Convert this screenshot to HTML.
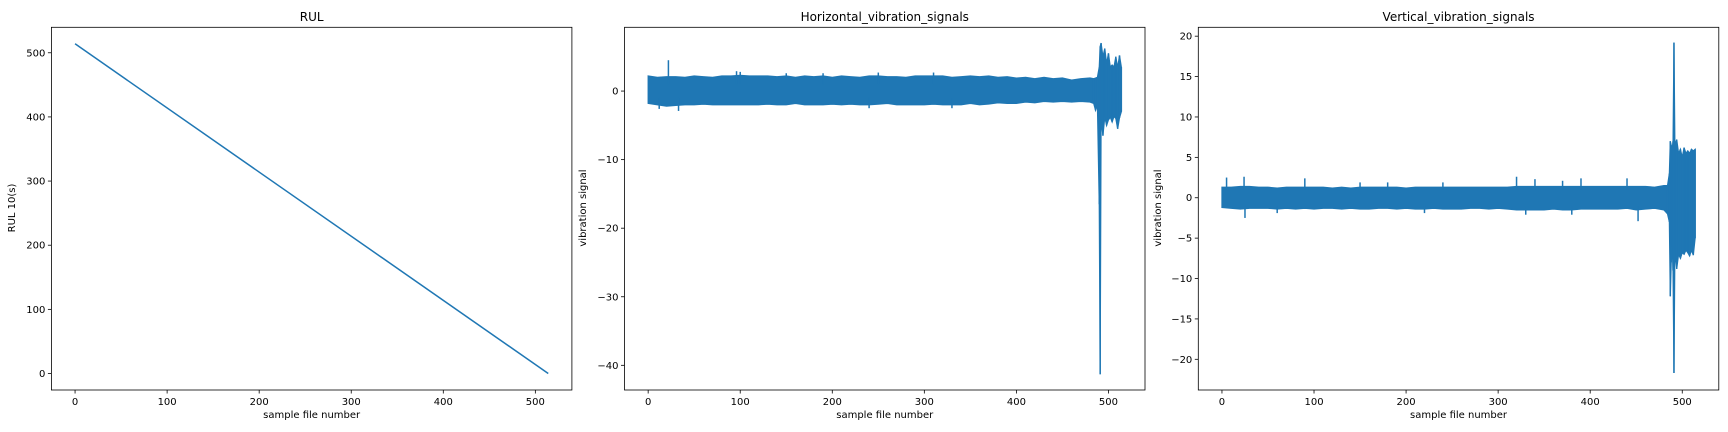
<!DOCTYPE html>
<html><head><meta charset="utf-8"><style>
html,body{margin:0;padding:0;background:#fff;}
svg{display:block;font-family:"DejaVu Sans","Liberation Sans",sans-serif;}
</style></head><body>
<svg id="fig" width="1728" height="432" xmlns="http://www.w3.org/2000/svg"></svg>
<script>
// ---- data ----
const rulFiles = [0, 514];
const rulValues = [514, 0];
const rulTicksY = [0, 100, 200, 300, 400, 500];
const xTicks = [0, 100, 200, 300, 400, 500];

const bandFiles = [0,10,20,30,40,50,60,70,80,90,100,110,120,130,140,150,160,170,180,190,200,210,220,230,240,250,260,270,280,290,300,310,320,330,340,350,360,370,380,390,400,410,420,430,440,450,460,470,480];

const horizHi = [2.2,2.0,2.1,2.1,2.0,2.2,2.1,2.0,2.2,2.2,2.3,2.2,2.2,2.2,2.1,2.2,2.0,2.2,2.1,2.2,2.0,2.2,2.1,2.0,2.2,2.2,2.1,2.1,2.0,2.2,2.2,2.2,2.2,2.0,2.1,2.2,2.1,2.2,2.0,2.1,1.9,2.0,1.8,2.0,1.8,1.9,1.6,1.8,1.9];
const horizLo = [-1.8,-2.0,-2.2,-2.1,-2.0,-2.0,-1.9,-2.0,-2.0,-2.0,-2.0,-2.0,-2.0,-1.9,-2.0,-2.0,-1.8,-2.0,-2.0,-2.0,-1.9,-2.0,-1.9,-2.0,-2.0,-1.9,-1.8,-2.0,-2.0,-2.0,-2.0,-1.9,-2.0,-2.0,-2.0,-1.8,-2.0,-1.9,-1.7,-1.8,-1.8,-1.6,-1.7,-1.5,-1.6,-1.5,-1.6,-1.5,-1.6];
const horizSpikeFiles = [22, 33, 96, 100, 150, 190, 250, 310, 12, 240, 330];
const horizSpikeValues = [4.5, -2.9, 2.9, 2.8, 2.6, 2.6, 2.7, 2.7, -2.6, -2.5, -2.5];
const horizTailFiles = [484,486,488,490,491,492,494,496,498,500,502,504,506,508,510,512,514];
const horizTailHi = [1.8,1.9,2.0,3.5,6.5,7.0,5.0,6.2,4.0,5.5,3.5,3.8,3.5,5.0,3.4,5.2,3.5];
const horizTailLo = [-1.8,-2.8,-2.0,-16.5,-41.3,-4.0,-6.5,-3.8,-5.0,-4.2,-3.8,-4.5,-3.7,-4.0,-5.5,-3.9,-3.0];
const horizTicksY = [-40, -30, -20, -10, 0];

const vertHi = [1.3,1.3,1.4,1.4,1.3,1.3,1.2,1.3,1.3,1.3,1.3,1.3,1.2,1.3,1.2,1.3,1.3,1.3,1.3,1.3,1.2,1.3,1.3,1.3,1.3,1.3,1.3,1.3,1.3,1.3,1.3,1.3,1.4,1.4,1.4,1.4,1.4,1.4,1.4,1.4,1.4,1.4,1.4,1.4,1.4,1.4,1.4,1.3,1.5];
const vertLo = [-1.2,-1.3,-1.4,-1.3,-1.3,-1.3,-1.4,-1.3,-1.4,-1.3,-1.4,-1.3,-1.3,-1.4,-1.3,-1.4,-1.4,-1.3,-1.3,-1.4,-1.3,-1.4,-1.4,-1.3,-1.4,-1.4,-1.4,-1.3,-1.3,-1.4,-1.3,-1.4,-1.5,-1.5,-1.5,-1.5,-1.4,-1.5,-1.5,-1.4,-1.4,-1.4,-1.4,-1.4,-1.3,-1.5,-1.4,-1.3,-1.5];
const vertSpikeFiles = [5, 24, 25, 90, 150, 180, 240, 320, 340, 370, 390, 440, 452, 220, 330, 380, 60];
const vertSpikeValues = [2.5, 2.6, -2.5, 2.4, 1.9, 1.9, 1.9, 2.6, 2.3, 2.1, 2.4, 2.4, -2.9, -1.9, -2.1, -2.1, -1.9];
const vertTailFiles = [484,486,487,488,489,490,491,492,494,496,498,500,502,504,506,508,510,512,514];
const vertTailHi = [1.5,3.0,7.0,6.5,6.0,7.0,19.2,6.5,7.2,5.5,6.0,5.0,6.2,5.5,5.8,5.5,6.0,5.8,6.0];
const vertTailLo = [-2.0,-3.0,-12.2,-8.0,-6.0,-9.0,-21.7,-6.5,-8.8,-7.0,-7.5,-6.8,-7.0,-6.5,-6.8,-7.2,-6.5,-7.1,-5.0];
const vertTicksY = [-20, -15, -10, -5, 0, 5, 10, 15, 20];

const NS = "http://www.w3.org/2000/svg";
const svg = document.getElementById('fig');
const BLUE = "#1f77b4";
function mk(tag, attrs, parent) {
  const e = document.createElementNS(NS, tag);
  for (const k in attrs) e.setAttribute(k, attrs[k]);
  (parent || svg).appendChild(e);
  return e;
}
function txt(s, attrs, parent) { const t = mk('text', attrs, parent); t.textContent = s; return t; }

const TOP = 27.3, BOT = 390, W = 520.5;
const XMIN = -25.7, XMAX = 539.7;

function makeAxes(name, left, ymin, ymax, yTicks, title, ylabel, ylabX) {
  const g = mk('g', {});
  
  
  const sx = v => left + (v - XMIN) / (XMAX - XMIN) * W;
  const sy = v => BOT - (v - ymin) / (ymax - ymin) * (BOT - TOP);
  const t = txt(title, {x: left + W / 2, y: 21, 'text-anchor': 'middle', 'font-size': 12, fill: '#000'}, g);
  
  
  const xa = mk('g', {}, g);
  
  
  xTicks.forEach(v => {
    const x = sx(v);
    mk('line', {x1: x, x2: x, y1: BOT, y2: BOT + 3.5, stroke: '#000', 'stroke-width': 0.8}, xa);
    const l = txt(String(v), {x: x, y: BOT + 15, 'text-anchor': 'middle', 'font-size': 10, fill: '#000'}, xa);
    
    
  });
  const xl = txt('sample file number', {x: left + W / 2, y: 418, 'text-anchor': 'middle', 'font-size': 10, fill: '#000'}, g);
  
  
  const ya = mk('g', {}, g);
  
  
  yTicks.forEach(v => {
    const y = sy(v);
    mk('line', {x1: left - 3.5, x2: left, y1: y, y2: y, stroke: '#000', 'stroke-width': 0.8}, ya);
    const l = txt(v < 0 ? '\u2212' + Math.abs(v) : String(v), {x: left - 6, y: y + 3.5, 'text-anchor': 'end', 'font-size': 10, fill: '#000'}, ya);
    
    
  });
  const yl = txt(ylabel, {x: ylabX, y: 208, 'text-anchor': 'middle', 'font-size': 10, fill: '#000', transform: `rotate(-90 ${ylabX} 208)`}, g);
  
  
  return {g, sx, sy, left};
}
function frame(ax) {
  const r = mk('rect', {x: ax.left, y: TOP, width: W, height: BOT - TOP, fill: 'none', stroke: '#000', 'stroke-width': 0.8}, ax.g);
  
  
}
function band(ax, name, files, hi, lo, tf, thi, tlo, sf, sv) {
  const xs = files.concat(tf), his = hi.concat(thi), los = lo.concat(tlo);
  let up = [], dn = [];
  for (let i = 0; i < xs.length; i++) {
    up.push(ax.sx(xs[i]).toFixed(2) + ',' + ax.sy(his[i]).toFixed(2));
    dn.push(ax.sx(xs[i]).toFixed(2) + ',' + ax.sy(los[i]).toFixed(2));
  }
  const p = mk('polygon', {points: up.concat(dn.reverse()).join(' '), fill: BLUE, stroke: BLUE, 'stroke-width': 1.2, 'stroke-linejoin': 'miter'}, ax.g);
  
  
  for (let i = 0; i < sf.length; i++) {
    const base = sv[i] > 0 ? 1 : -1;
    const s = mk('line', {x1: ax.sx(sf[i]), x2: ax.sx(sf[i]), y1: ax.sy(base), y2: ax.sy(sv[i]), stroke: BLUE, 'stroke-width': 1.5}, ax.g);
    
    
  }
  for (let i = 0; i < tf.length; i++) {
    const s = mk('line', {x1: ax.sx(tf[i]), x2: ax.sx(tf[i]), y1: ax.sy(thi[i]), y2: ax.sy(tlo[i]), stroke: BLUE, 'stroke-width': 1.5}, ax.g);
    
    
  }
}

// RUL
const a1 = makeAxes('rul-chart', 51.4, -25.7, 539.7, rulTicksY, 'RUL', 'RUL 10(s)', 15);
const rl = mk('polyline', {points: rulFiles.map((f, i) => a1.sx(f) + ',' + a1.sy(rulValues[i])).join(' '), fill: 'none', stroke: BLUE, 'stroke-width': 1.5}, a1.g);


frame(a1);

// Horizontal
const a2 = makeAxes('horizontal-chart', 624.5, -43.6, 9.3, horizTicksY, 'Horizontal_vibration_signals', 'vibration signal', 586);
band(a2, 'horizontal-signal', bandFiles, horizHi, horizLo, horizTailFiles, horizTailHi, horizTailLo, horizSpikeFiles, horizSpikeValues);
frame(a2);

// Vertical
const a3 = makeAxes('vertical-chart', 1198.3, -23.8, 21.1, vertTicksY, 'Vertical_vibration_signals', 'vibration signal', 1161);
band(a3, 'vertical-signal', bandFiles, vertHi, vertLo, vertTailFiles, vertTailHi, vertTailLo, vertSpikeFiles, vertSpikeValues);
frame(a3);
</script>
</body></html>
